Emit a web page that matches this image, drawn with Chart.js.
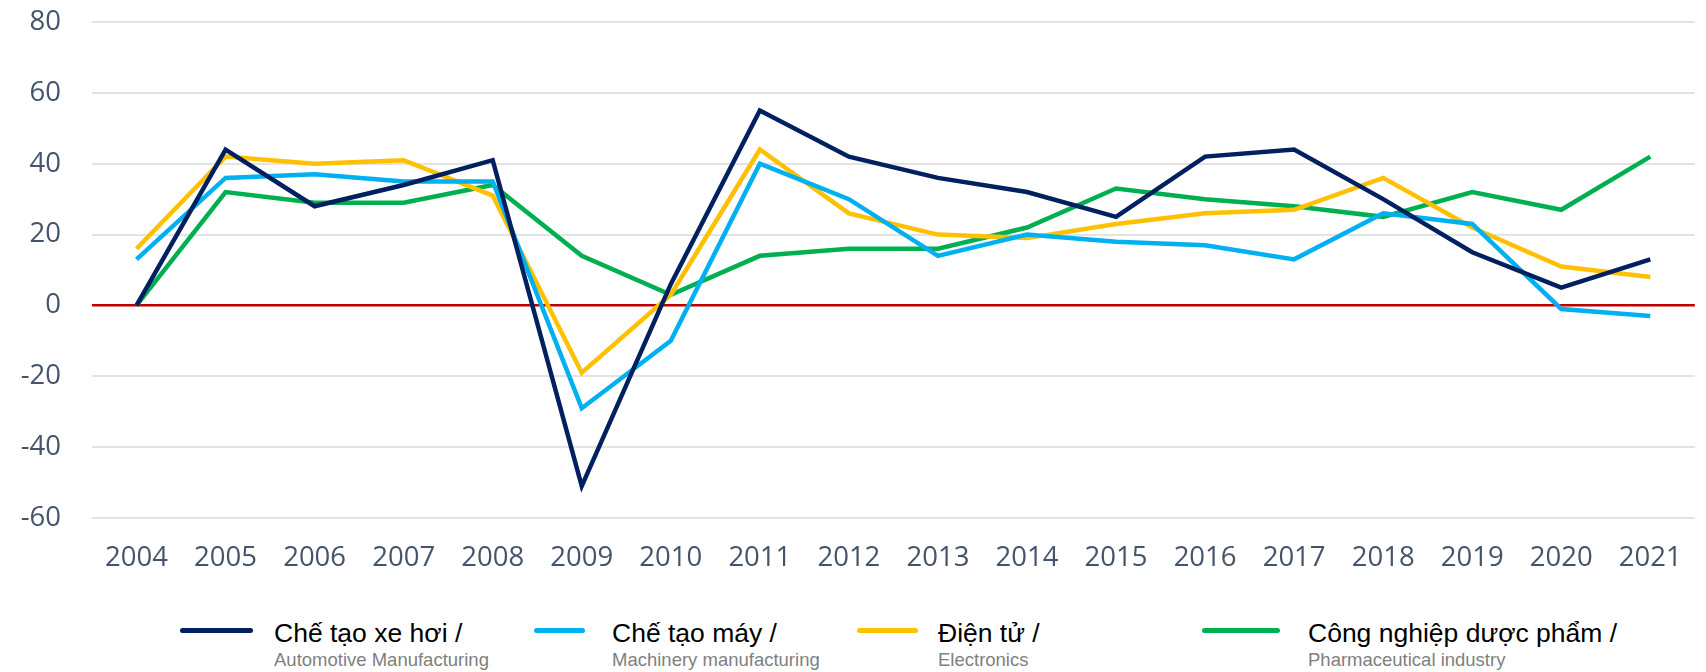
<!DOCTYPE html>
<html lang="vi">
<head>
  <meta charset="UTF-8" />
  <title>Industry growth 2004-2021</title>
  <script src="https://cdn.jsdelivr.net/npm/chart.js"></script>
  <style>
    body {
      margin: 0;
      background: #fff;
      width: 1706px;
      height: 672px;
      position: relative;
      overflow: hidden;
      font-family: "Liberation Sans", Arial, sans-serif;
    }
    #wrap {
      position: absolute;
      left: 0;
      top: 0;
      width: 1706px;
      height: 600px;
    }
    .swatch {
      position: absolute;
      top: 628px;
      height: 5px;
      border-radius: 2.5px;
    }
    .main {
      position: absolute;
      top: 619px;
      font-size: 26.5px;
      line-height: 28px;
      color: #000;
      white-space: nowrap;
    }
    .sub {
      position: absolute;
      top: 649px;
      font-size: 18.5px;
      line-height: 22px;
      color: #808080;
      white-space: nowrap;
    }
  </style>
</head>
<body>
  <div id="wrap"><canvas id="chart" width="1706" height="600"></canvas></div>
  <div id="legend"></div>

  <script>
    // data
    const years = ['2004', '2005', '2006', '2007', '2008', '2009', '2010', '2011', '2012',
                   '2013', '2014', '2015', '2016', '2017', '2018', '2019', '2020', '2021'];
    const automotive  = [0, 44, 28, 34, 41, -51, 6, 55, 42, 36, 32, 25, 42, 44, 30, 15, 5, 13];
    const machinery   = [13, 36, 37, 35, 35, -29, -10, 40, 30, 14, 20, 18, 17, 13, 26, 23, -1, -3];
    const electronics = [16, 42, 40, 41, 31, -19, 3, 44, 26, 20, 19, 23, 26, 27, 36, 22, 11, 8];
    const pharma      = [0, 32, 29, 29, 34, 14, 3, 14, 16, 16, 22, 33, 30, 28, 25, 32, 27, 42];
    const yTicks = [-60, -40, -20, 0, 20, 40, 60, 80];

    const namesVi = ['Chế tạo xe hơi /', 'Chế tạo máy /', 'Điện tử /', 'Công nghiệp dược phẩm /'];
    const namesEn = ['Automotive Manufacturing', 'Machinery manufacturing', 'Electronics', 'Pharmaceutical industry'];
    const colors = ['#002060', '#00b0f0', '#ffc000', '#00b050'];

    const series = [automotive, machinery, electronics, pharma];

    // legend layout: [line start, line end, text start]
    const legendPos = [[180, 253, 274], [534, 585, 612], [857, 918, 938], [1202, 1280, 1308]];

    const legend = document.getElementById('legend');
    namesVi.forEach((name, i) => {
      const p = legendPos[i];
      legend.innerHTML += `
        <div class="swatch" style="left:${p[0]}px;width:${p[1] - p[0]}px;background:${colors[i]}"></div>
        <div class="main" style="left:${p[2]}px">${name}</div>
        <div class="sub" style="left:${p[2]}px">${namesEn[i]}</div>`;
    });

    const tickFont = { family: '"Open Sans", sans-serif', size: 27.5 };
    const tickColor = '#44546a';

    new Chart(document.getElementById('chart'), {
      type: 'line',
      data: {
        labels: years,
        datasets: series.map((d, i) => ({
          label: namesVi[i] + ' ' + namesEn[i],
          data: d,
          borderColor: colors[i],
          backgroundColor: colors[i],
          borderWidth: 4.5,
          pointRadius: 0,
          tension: 0,
          fill: false
        }))
      },
      options: {
        responsive: false,
        animation: false,
        devicePixelRatio: 1,
        layout: { padding: { left: 0, right: 9, top: 22, bottom: 0 } },
        plugins: {
          legend: { display: false },
          tooltip: { enabled: false }
        },
        scales: {
          x: {
            offset: true,
            grid: { display: false, drawTicks: false },
            border: { display: false },
            ticks: { font: tickFont, color: tickColor, padding: 24, maxRotation: 0 },
            afterFit: s => { s.height = 82; }
          },
          y: {
            min: yTicks[0],
            max: yTicks[yTicks.length - 1],
            afterBuildTicks: s => { s.ticks = yTicks.map(v => ({ value: v })); },
            grid: {
              drawTicks: false,
              color: c => c.tick && c.tick.value === 0 ? '#c00000' : '#e3e3e3',
              lineWidth: c => c.tick && c.tick.value === 0 ? 2.5 : 2
            },
            border: { display: false },
            ticks: { font: tickFont, color: tickColor, padding: 31 },
            // the tick padding would otherwise push the plot area down
            afterFit: s => { s.width = 92; s.paddingTop = 0; s.paddingBottom = 0; }
          }
        }
      }
    });
  </script>
</body>
</html>
